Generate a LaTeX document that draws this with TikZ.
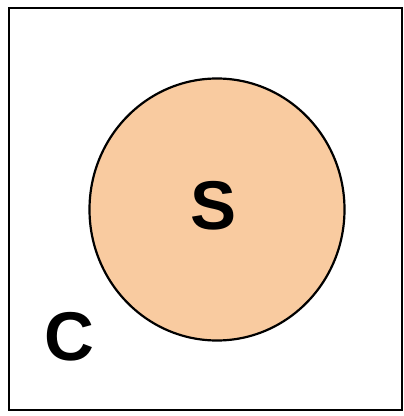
\documentclass[tikz,border=0pt]{standalone}
\usepackage{fontspec}
\setmainfont{Liberation Sans}
\definecolor{peach}{RGB}{249,203,160}
\begin{document}
\begin{tikzpicture}[x=1pt,y=1pt,
  frame/.style={draw=black,line width=2.4pt},
  setshape/.style={draw=black,line width=2.2pt,fill=peach},
  lbl/.style={inner sep=0pt,font=\fontsize{69}{69}\selectfont\bfseries}]
\useasboundingbox (0,0) rectangle (404,416);
\draw[frame] (9,6) rectangle (402,408);
\draw[setshape] (217,206.5) ellipse [x radius=127.5, y radius=131];
\node[lbl] (s) at (214,210) {S};
\node[lbl] (c) at (69.5,79.5) {C};
\end{tikzpicture}
\end{document}
